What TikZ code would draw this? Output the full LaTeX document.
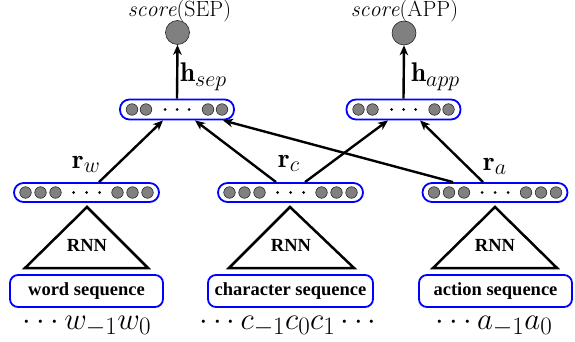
\RequirePackage{fix-cm}
\documentclass[tikz,border=0pt]{standalone}
\usepackage{fontspec}
\newfontfamily\tnr{Liberation Serif}
\usetikzlibrary{arrows.meta}
\DeclareMathSizes{22}{22}{17}{13}
\DeclareMathSizes{27}{27}{22}{17}
\DeclareMathSizes{31}{31}{25}{19}
\begin{document}
\begin{tikzpicture}[x=1pt,y=-1pt,
  bar/.style={draw=blue, line width=1.8pt, rounded corners=9.5pt, minimum height=20pt, inner sep=0pt},
  unit/.style={circle, fill=black!50, draw=black!85, line width=0.6pt, minimum size=11.5pt, inner sep=0pt},
  dotn/.style={circle, fill=black, minimum size=3pt, inner sep=0pt},
  outn/.style={circle, fill=black!50, draw=black!85, line width=0.6pt, minimum size=24pt, inner sep=0pt},
  seqbox/.style={draw=blue, line width=1.8pt, rounded corners=8pt, minimum height=32pt, inner sep=0pt,
     font=\tnr\bfseries\fontsize{18.5}{20}\selectfont},
  rnnlab/.style={font=\tnr\bfseries\fontsize{18.5}{20}\selectfont, inner sep=0pt},
  slab/.style={font=\fontsize{22}{24}\selectfont, inner sep=0pt, anchor=base},
  mlab/.style={font=\fontsize{27}{29}\selectfont, inner sep=0pt, anchor=base west},
  inlab/.style={font=\fontsize{31}{33}\selectfont, inner sep=0pt, anchor=base},
  tri/.style={draw=black, line width=2.5pt, line join=miter},
  conn/.style={-{Stealth[length=10pt,width=8.5pt,inset=3pt]}, line width=2.4pt}]
\useasboundingbox (0,0) rectangle (575,342);

% top hidden bars
\node[bar, minimum width=114pt] (sepbar) at (177,109.5) {};
\node[bar, minimum width=114pt] (appbar) at (403.5,109.5) {};
\foreach \b in {sepbar,appbar}{
  \foreach \dx [count=\i] in {-45,-31,31,45}
    \path (\b.center) ++(\dx,0) node[unit] (\b u\i) {};
  \foreach \dx [count=\i] in {-12,0,12}
    \path (\b.center) ++(\dx,0) node[dotn] (\b d\i) {};
}

% output circles
\node[outn] (sepout) at (177.5,32.5) {};
\node[outn] (appout) at (404,33) {};
\node[slab] (seplab) at (179.5,17) {$\mathit{score}(\mathrm{SEP})$};
\node[slab] (applab) at (404.5,17) {$\mathit{score}(\mathrm{APP})$};

\draw[conn] (sepbar.north) -- (sepout.south);
\draw[conn] (appbar.north) -- (appout.south);
\node[mlab] (hsep) at (180,82) {$\mathbf{h}_{sep}$};
\node[mlab] (happ) at (411,82) {$\mathbf{h}_{app}$};

% middle representation bars
\node[bar, minimum width=145pt, minimum height=19pt] (wbar) at (86.5,192.5) {};
\node[bar, minimum width=145pt, minimum height=19pt] (cbar) at (290.5,192.5) {};
\node[bar, minimum width=145pt, minimum height=19pt] (abar) at (495,192.5) {};
\foreach \b in {wbar,cbar,abar}{
  \foreach \dx [count=\i] in {-61,-46,-31,31,46,61}
    \path (\b.center) ++(\dx,0) node[unit] (\b u\i) {};
  \foreach \dx [count=\i] in {-13,0,13}
    \path (\b.center) ++(\dx,0) node[dotn] (\b d\i) {};
}

% connectors
\draw[conn] ([xshift=12.5pt]wbar.north) -- ([xshift=-14pt]sepbar.south);
\draw[conn] ([xshift=-14.5pt]cbar.north) -- ([xshift=18pt]sepbar.south);
\draw[conn] ([xshift=-42pt]abar.north) -- ([xshift=46pt]sepbar.south);
\draw[conn] ([xshift=14.5pt]cbar.north) -- ([xshift=-15.5pt]appbar.south);
\draw[conn] ([xshift=-12pt]abar.north) -- ([xshift=16.5pt]appbar.south);

\node[mlab] (rw) at (72,168) {$\mathbf{r}_w$};
\node[mlab] (rc) at (278,167) {$\mathbf{r}_c$};
\node[mlab] (ra) at (483,170) {$\mathbf{r}_a$};

% RNN triangles
\draw[tri] (87,207) -- (148,268) -- (25,268) -- cycle;
\draw[tri] (290,207) -- (354,268) -- (229,268) -- cycle;
\draw[tri] (495,207) -- (557,268) -- (433,268) -- cycle;
\node[rnnlab] (rnnw) at (87,245) {RNN};
\node[rnnlab] (rnnc) at (291,245) {RNN};
\node[rnnlab] (rnna) at (495,245) {RNN};

% sequence boxes
\node[seqbox, minimum width=153pt] (wseq) at (86.5,291) {word sequence};
\node[seqbox, minimum width=165pt] (cseq) at (290.5,291) {character sequence};
\node[seqbox, minimum width=153pt] (aseq) at (495.5,291) {action sequence};

% input sequences
\node[inlab] (win) at (87,329) {$\cdots w_{-1}w_0$};
\node[inlab] (cin) at (288,329) {$\cdots c_{-1}c_0c_1\cdots$};
\node[inlab] (ain) at (494,329) {$\cdots a_{-1}a_0$};
\end{tikzpicture}
\end{document}
